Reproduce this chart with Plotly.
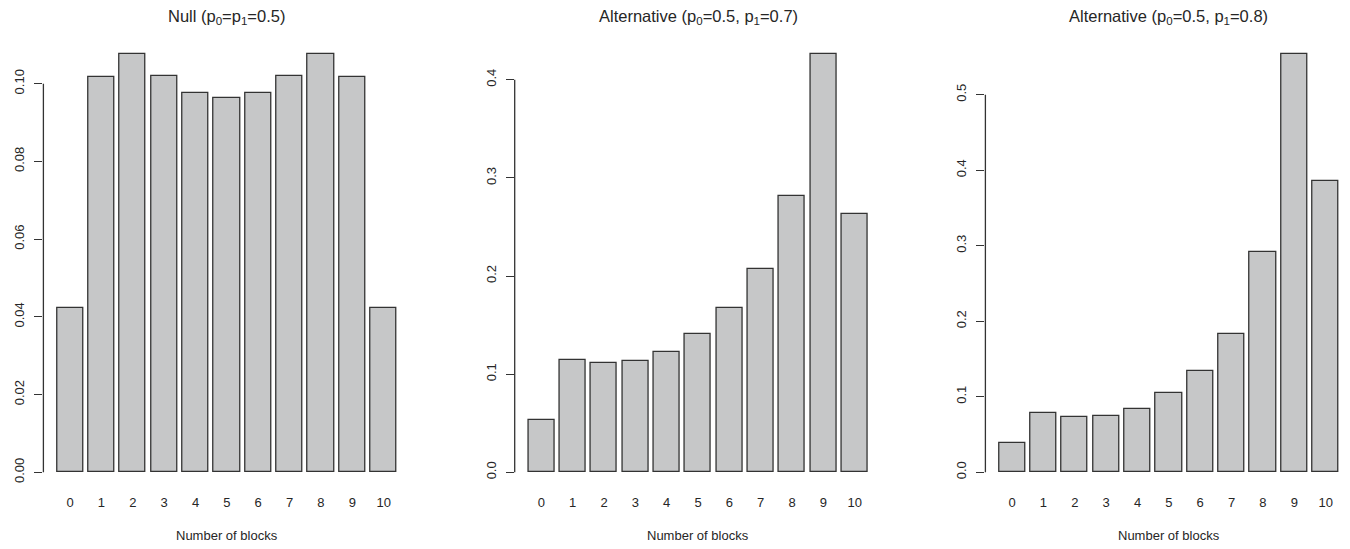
import plotly.graph_objects as go

blocks = [str(i) for i in range(11)]
null_vals = [0.0423, 0.1016, 0.1077, 0.1021, 0.0976, 0.0962, 0.0976, 0.1021, 0.1077, 0.1016, 0.0423]
alt07_vals = [0.0534, 0.1146, 0.1112, 0.1136, 0.1221, 0.1412, 0.1673, 0.2068, 0.2816, 0.4265, 0.2633]
alt08_vals = [0.0381, 0.0779, 0.0726, 0.0748, 0.0832, 0.1044, 0.1345, 0.1832, 0.2912, 0.5543, 0.3863]

titles = ["Null (p<sub>0</sub>=p<sub>1</sub>=0.5)",
          "Alternative (p<sub>0</sub>=0.5, p<sub>1</sub>=0.7)",
          "Alternative (p<sub>0</sub>=0.5, p<sub>1</sub>=0.8)"]
y_ticks = [[0.00, 0.02, 0.04, 0.06, 0.08, 0.10],
           [0.0, 0.1, 0.2, 0.3, 0.4],
           [0.0, 0.1, 0.2, 0.3, 0.4, 0.5]]
y_ticktext = [["0.00", "0.02", "0.04", "0.06", "0.08", "0.10"],
              ["0.0", "0.1", "0.2", "0.3", "0.4"],
              ["0.0", "0.1", "0.2", "0.3", "0.4", "0.5"]]
x_title = "Number of blocks"

# page has an 8px body margin; the figure is sized to fill the rest of the window
OFF = 8
W, H = 1350 - OFF, 549 - OFF
FONT = "Liberation Sans, Arial, Helvetica, sans-serif"
TXT = "#262626"
AX = "#333333"

series = [null_vals, alt07_vals, alt08_vals]
xdom_px = [(43.4, 410.3), (514.7, 881.3), (985.4, 1350.0)]  # window pixels
xranges = [[-0.85, 10.85], [-0.85, 10.85], [-0.85, 10.777]]
ytop_px, ybot_px = 37, 489
ydom = [(549 - ybot_px) / H, (549 - ytop_px) / H]

fig = go.Figure()
xpos = list(range(11))
for k, vals in enumerate(series):
    sfx = "" if k == 0 else str(k + 1)
    fig.add_trace(go.Bar(
        x=xpos, y=vals, width=1 / 1.2,
        marker=dict(color="#c6c7c8", line=dict(color=AX, width=1.3)),
        xaxis="x" + sfx, yaxis="y" + sfx, showlegend=False, hoverinfo="x+y",
    ))
    vmax = max(vals)
    yr = [-0.04 * vmax, 1.04 * vmax]
    d = [(xdom_px[k][0] - OFF) / W, min(1.0, (xdom_px[k][1] - OFF) / W)]
    fig.layout["xaxis" + sfx] = dict(
        domain=d, range=xranges[k], tickmode="array", tickvals=xpos, ticktext=blocks,
        showline=False, showgrid=False, zeroline=False, ticks="",
        tickfont=dict(family=FONT, size=13, color=TXT), ticklabelstandoff=4,
        anchor="y" + sfx, fixedrange=True,
    )
    fig.layout["yaxis" + sfx] = dict(
        domain=ydom, range=yr, tickmode="array", tickvals=y_ticks[k], ticktext=y_ticktext[k],
        showline=False, showgrid=False, zeroline=False, ticks="outside", ticklen=8,
        tickwidth=1.2, tickcolor=AX, tickangle=-90,
        tickfont=dict(family=FONT, size=13, color=TXT), ticklabelstandoff=5,
        anchor="x" + sfx, fixedrange=True,
    )
    # R-style axis line spanning only first to last tick
    fig.add_shape(type="line", xref="x" + sfx + " domain", yref="y" + sfx,
                  x0=0, x1=0, y0=y_ticks[k][0], y1=y_ticks[k][-1],
                  line=dict(color=AX, width=1.3))
    cx = (d[0] + d[1]) / 2 if k < 2 else ((xdom_px[k][0] + 1352.3) / 2 - OFF) / W
    fig.add_annotation(text=titles[k], xref="paper", yref="paper", x=cx, y=(549 - 17) / H,
                       xanchor="center", yanchor="middle", showarrow=False,
                       font=dict(family=FONT, size=16.5, color=TXT))
    fig.add_annotation(text=x_title, xref="paper", yref="paper", x=cx, y=(549 - 535) / H,
                       xanchor="center", yanchor="middle", showarrow=False,
                       font=dict(family=FONT, size=13, color=TXT))

fig.update_layout(width=W, height=H, margin=dict(l=0, r=0, t=0, b=0),
                  paper_bgcolor="white", plot_bgcolor="white", bargap=0)
fig.write_html("out.html")
